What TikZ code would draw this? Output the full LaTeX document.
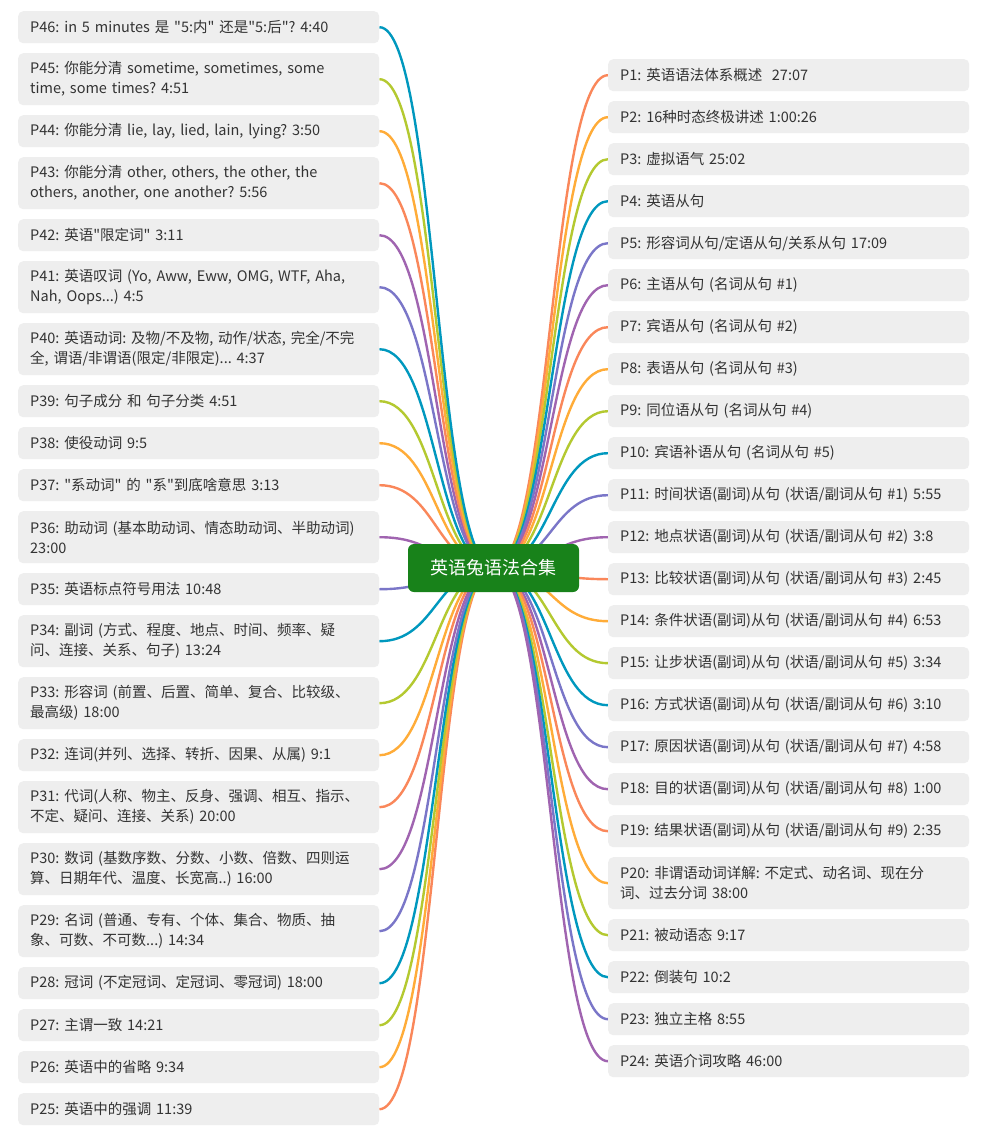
\documentclass[tikz,border=0pt]{standalone}
\usepackage{fontspec}
\setmainfont{Noto Sans CJK SC}[Ligatures=TeXOff]
\usepackage{tikz}
\frenchspacing

\definecolor{boxgray}{RGB}{238,238,238}
\definecolor{txtgray}{RGB}{51,51,51}
\definecolor{rootgreen}{RGB}{24,130,26}
\definecolor{br0}{RGB}{250,135,90}
\definecolor{br1}{RGB}{255,172,56}
\definecolor{br2}{RGB}{180,201,48}
\definecolor{br3}{RGB}{0,152,190}
\definecolor{br4}{RGB}{122,118,200}
\definecolor{br5}{RGB}{160,100,176}

\pgfdeclarelayer{paper}
\pgfdeclarelayer{links}
\pgfsetlayers{paper,links,main}

\tikzset{
  topic/.style={fill=boxgray, rounded corners=5pt, anchor=north west,
    text width=337pt, inner xsep=12pt, inner ysep=0pt, minimum height=32pt,
    align=left, text=txtgray, font=\fontsize{14.5}{20}\selectfont},
  tall/.style={minimum height=52pt},
  hub/.style={fill=rootgreen, rounded corners=6pt, minimum width=171pt,
    minimum height=48pt, text=white, font=\fontsize{18}{22}\selectfont},
  link/.style={line width=2.4pt},
  toleft/.style={out=180, in=0, distance=57pt},
  toright/.style={out=0, in=180, distance=57pt},
}

\begin{document}
\begin{tikzpicture}[x=1pt,y=-1pt]
\begin{pgfonlayer}{paper}
\fill[white] (0,0) rectangle (987,1136);
\end{pgfonlayer}
\useasboundingbox (0,0) rectangle (987,1136);

% centre
\node[hub] (root) at (493.5,568) {英语兔语法合集};

% left column
\node[topic] (p46) at (18,11) {P46: in 5 minutes 是 "5:内" 还是"5:后"? 4:40};
\node[topic, tall] (p45) at (18,53) {P45: 你能分清 sometime, sometimes, some\\time, some times? 4:51};
\node[topic] (p44) at (18,115) {P44: 你能分清 lie, lay, lied, lain, lying? 3:50};
\node[topic, tall] (p43) at (18,157) {P43: 你能分清 other, others, the other, the\\others, another, one another? 5:56};
\node[topic] (p42) at (18,219) {P42: 英语"限定词" 3:11};
\node[topic, tall] (p41) at (18,261) {P41: 英语叹词 (Yo, Aww, Eww, OMG, WTF, Aha,\\Nah, Oops...) 4:5};
\node[topic, tall] (p40) at (18,323) {P40: 英语动词: 及物/不及物, 动作/状态, 完全/不完\\全, 谓语/非谓语(限定/非限定)... 4:37};
\node[topic] (p39) at (18,385) {P39: 句子成分 和 句子分类 4:51};
\node[topic] (p38) at (18,427) {P38: 使役动词 9:5};
\node[topic] (p37) at (18,469) {P37: "系动词" 的 "系"到底啥意思 3:13};
\node[topic, tall] (p36) at (18,511) {P36: 助动词 (基本助动词、情态助动词、半助动词)\\23:00};
\node[topic] (p35) at (18,573) {P35: 英语标点符号用法 10:48};
\node[topic, tall] (p34) at (18,615) {P34: 副词 (方式、程度、地点、时间、频率、疑\\问、连接、关系、句子) 13:24};
\node[topic, tall] (p33) at (18,677) {P33: 形容词 (前置、后置、简单、复合、比较级、\\最高级) 18:00};
\node[topic] (p32) at (18,739) {P32: 连词(并列、选择、转折、因果、从属) 9:1};
\node[topic, tall] (p31) at (18,781) {P31: 代词(人称、物主、反身、强调、相互、指示、\\不定、疑问、连接、关系) 20:00};
\node[topic, tall] (p30) at (18,843) {P30: 数词 (基数序数、分数、小数、倍数、四则运\\算、日期年代、温度、长宽高..) 16:00};
\node[topic, tall] (p29) at (18,905) {P29: 名词 (普通、专有、个体、集合、物质、抽\\象、可数、不可数...) 14:34};
\node[topic] (p28) at (18,967) {P28: 冠词 (不定冠词、定冠词、零冠词) 18:00};
\node[topic] (p27) at (18,1009) {P27: 主谓一致 14:21};
\node[topic] (p26) at (18,1051) {P26: 英语中的省略 9:34};
\node[topic] (p25) at (18,1093) {P25: 英语中的强调 11:39};

% right column
\node[topic] (p1) at (608,59) {P1: 英语语法体系概述\ \ 27:07};
\node[topic] (p2) at (608,101) {P2: 16种时态终极讲述 1:00:26};
\node[topic] (p3) at (608,143) {P3: 虚拟语气 25:02};
\node[topic] (p4) at (608,185) {P4: 英语从句};
\node[topic] (p5) at (608,227) {P5: 形容词从句/定语从句/关系从句 17:09};
\node[topic] (p6) at (608,269) {P6: 主语从句 (名词从句 \#1)};
\node[topic] (p7) at (608,311) {P7: 宾语从句 (名词从句 \#2)};
\node[topic] (p8) at (608,353) {P8: 表语从句 (名词从句 \#3)};
\node[topic] (p9) at (608,395) {P9: 同位语从句 (名词从句 \#4)};
\node[topic] (p10) at (608,437) {P10: 宾语补语从句 (名词从句 \#5)};
\node[topic] (p11) at (608,479) {P11: 时间状语(副词)从句 (状语/副词从句 \#1) 5:55};
\node[topic] (p12) at (608,521) {P12: 地点状语(副词)从句 (状语/副词从句 \#2) 3:8};
\node[topic] (p13) at (608,563) {P13: 比较状语(副词)从句 (状语/副词从句 \#3) 2:45};
\node[topic] (p14) at (608,605) {P14: 条件状语(副词)从句 (状语/副词从句 \#4) 6:53};
\node[topic] (p15) at (608,647) {P15: 让步状语(副词)从句 (状语/副词从句 \#5) 3:34};
\node[topic] (p16) at (608,689) {P16: 方式状语(副词)从句 (状语/副词从句 \#6) 3:10};
\node[topic] (p17) at (608,731) {P17: 原因状语(副词)从句 (状语/副词从句 \#7) 4:58};
\node[topic] (p18) at (608,773) {P18: 目的状语(副词)从句 (状语/副词从句 \#8) 1:00};
\node[topic] (p19) at (608,815) {P19: 结果状语(副词)从句 (状语/副词从句 \#9) 2:35};
\node[topic, tall] (p20) at (608,857) {P20: 非谓语动词详解: 不定式、动名词、现在分\\词、过去分词 38:00};
\node[topic] (p21) at (608,919) {P21: 被动语态 9:17};
\node[topic] (p22) at (608,961) {P22: 倒装句 10:2};
\node[topic] (p23) at (608,1003) {P23: 独立主格 8:55};
\node[topic] (p24) at (608,1045) {P24: 英语介词攻略 46:00};

% branches, colour cycles every 6
\begin{pgfonlayer}{links}
\foreach \n in {25,...,46} {
  \pgfmathtruncatemacro\k{mod(\n-1,6)}
  \draw[link, color=br\k] (root.center) to[toleft] (p\n.east);
}
\foreach \n in {1,...,24} {
  \pgfmathtruncatemacro\k{mod(\n-1,6)}
  \draw[link, color=br\k] (root.center) to[toright] (p\n.west);
}
\end{pgfonlayer}
\end{tikzpicture}
\end{document}
